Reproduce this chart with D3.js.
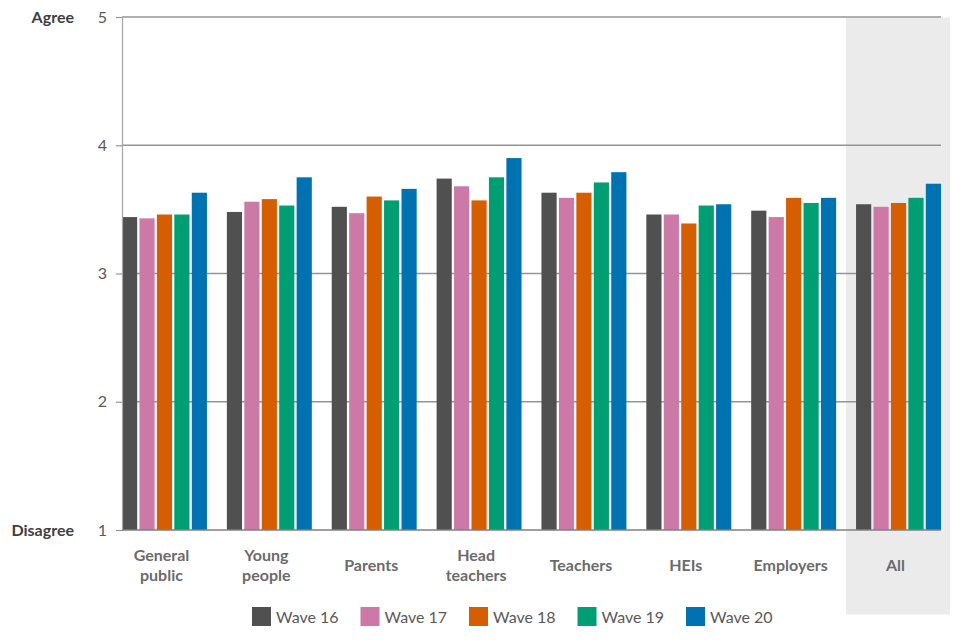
<!DOCTYPE html>
<html>
<head>
<meta charset="utf-8">
<script src="https://cdn.jsdelivr.net/npm/d3@7"></script>
<style>
  body { margin: 0; background: #fff; }
  text { font-family: Lato, "Open Sans", sans-serif; }
</style>
</head>
<body>
<div id="chart"></div>
<script>
// chart data
var categories = ["General public", "Young people", "Parents", "Head teachers", "Teachers", "HEIs", "Employers", "All"];
var waves = ["Wave 16", "Wave 17", "Wave 18", "Wave 19", "Wave 20"];
var wave16 = [3.44, 3.48, 3.52, 3.74, 3.63, 3.46, 3.49, 3.54];
var wave17 = [3.43, 3.56, 3.47, 3.68, 3.59, 3.46, 3.44, 3.52];
var wave18 = [3.46, 3.58, 3.60, 3.57, 3.63, 3.39, 3.59, 3.55];
var wave19 = [3.46, 3.53, 3.57, 3.75, 3.71, 3.53, 3.55, 3.59];
var wave20 = [3.63, 3.75, 3.66, 3.90, 3.79, 3.54, 3.59, 3.70];
var yTicks = [1, 2, 3, 4, 5];
var colors = ["#505050", "#cc79a7", "#d55e00", "#009e73", "#0072b2"];

var series = [wave16, wave17, wave18, wave19, wave20];

var svgWidth = 960;
var svgHeight = 640;

var svg = d3.select("#chart")
    .append("svg")
    .attr("width", svgWidth)
    .attr("height", svgHeight);

var margin = { top: 17, right: 19, bottom: 110, left: 122 };
var width = svgWidth - margin.left - margin.right;
var height = svgHeight - margin.top - margin.bottom;

var g = svg.append("g")
    .attr("transform", `translate(${margin.left}, ${margin.top})`);

var x0 = d3.scaleBand()
    .domain(categories)
    .range([0, width])
    .paddingInner(0.19)
    .paddingOuter(0);

var x1 = d3.scaleBand()
    .domain(waves)
    .range([0, x0.bandwidth()])
    .paddingInner(0.13);

var y = d3.scaleLinear()
    .domain([1, 5])
    .range([height, 0]);

// shaded box behind the "All" group
var gap = x0.step() - x0.bandwidth();
g.append("rect")
    .attr("x", x0("All") - gap / 2)
    .attr("y", 0.5)
    .attr("width", x0.bandwidth() + gap / 2 + 9)
    .attr("height", 597)
    .attr("fill", "#ebebeb");

// gridlines
g.selectAll(".grid")
    .data(yTicks.slice(1))
    .enter().append("line")
    .attr("x1", 0)
    .attr("x2", width)
    .attr("y1", d => y(d))
    .attr("y2", d => y(d))
    .attr("stroke", "#949494")
    .attr("stroke-width", 1.3);

// bars
var groups = g.selectAll(".group")
    .data(categories)
    .enter().append("g")
    .attr("transform", d => `translate(${x0(d)}, 0)`);

groups.selectAll("rect")
    .data((d, i) => waves.map((w, j) => ({ wave: w, value: series[j][i], color: colors[j] })))
    .enter().append("rect")
    .attr("x", d => x1(d.wave))
    .attr("y", d => y(d.value))
    .attr("width", x1.bandwidth())
    .attr("height", d => y(1) - y(d.value))
    .attr("fill", d => d.color);

// left axis
var leftAxis = d3.axisLeft(y).tickValues(yTicks).tickFormat(d3.format("d")).tickSize(6).tickPadding(9);
var ax = g.append("g").call(leftAxis);
ax.select(".domain").attr("stroke", "#a6a6a6").attr("stroke-width", 1.2);
ax.selectAll(".tick line").attr("stroke", "#949494").attr("stroke-width", 1.2);
ax.selectAll(".tick text")
    .attr("fill", "#595959")
    .style("font-size", "16px")
    .style("font-family", "Lato, sans-serif");

// baseline
g.append("line")
    .attr("x1", 0).attr("x2", width)
    .attr("y1", y(1)).attr("y2", y(1))
    .attr("stroke", "#808080")
    .attr("stroke-width", 1.5);

// Agree / Disagree
svg.append("text")
    .attr("x", 74).attr("y", margin.top + y(5) + 6)
    .attr("text-anchor", "end")
    .attr("fill", "#404040")
    .style("font-size", "16px").style("font-weight", "bold")
    .text("Agree");

svg.append("text")
    .attr("x", 74).attr("y", margin.top + y(1) + 6)
    .attr("text-anchor", "end")
    .attr("fill", "#404040")
    .style("font-size", "16px").style("font-weight", "bold")
    .text("Disagree");

// category labels, split on the first space for two-word names
groups.append("text")
    .attr("text-anchor", "middle")
    .attr("fill", "#6b6b6b")
    .style("font-size", "16px")
    .style("font-weight", "bold")
    .each(function(d) {
        var words = d.split(" ");
        var t = d3.select(this);
        var cx = x0.bandwidth() / 2 - 3;
        if (words.length > 1) {
            t.append("tspan").attr("x", cx).attr("y", height + 31).text(words[0]);
            t.append("tspan").attr("x", cx).attr("y", height + 51).text(words.slice(1).join(" "));
        } else {
            t.append("tspan").attr("x", cx).attr("y", height + 41).text(d);
        }
    });

// legend
var legendX = d3.scalePoint().domain(waves).range([252, 686]);
var legend = svg.selectAll(".legend")
    .data(waves)
    .enter().append("g")
    .attr("transform", d => `translate(${legendX(d)}, 607)`);

legend.append("rect")
    .attr("width", 19)
    .attr("height", 19)
    .attr("fill", (d, i) => colors[i]);

legend.append("text")
    .attr("x", 24)
    .attr("y", 16)
    .attr("fill", "#595959")
    .style("font-size", "16px")
    .text(d => d);
</script>
</body>
</html>
